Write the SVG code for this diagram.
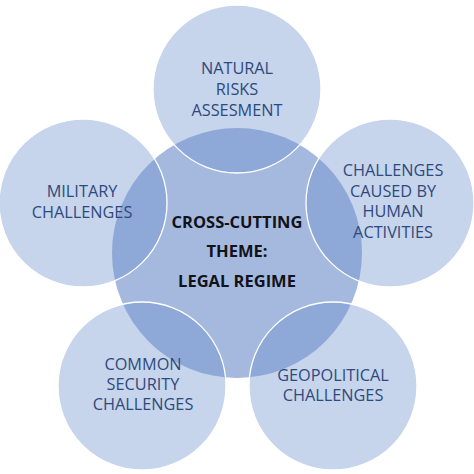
<svg xmlns="http://www.w3.org/2000/svg" width="474" height="474" viewBox="0 0 474 474">
<style>
.sat{fill:#6a8fcc;fill-opacity:0.38;stroke:#ffffff;stroke-width:1.3}
.hub{fill:#a5b9df}
.lbl{font-family:"Open Sans","Liberation Sans",sans-serif;font-size:16.3px;fill:#2e4a7d;text-anchor:middle}
.hubt{font-family:"Open Sans","Liberation Sans",sans-serif;font-size:16.5px;font-weight:bold;fill:#111318;text-anchor:middle}
</style>
<rect width="474" height="474" fill="#ffffff"/>
<g id="hub">
<circle class="hub" cx="237" cy="253" r="125"/>
</g>
<g id="natural">
<circle class="sat" cx="237" cy="89" r="84"/>
<text class="lbl" x="237" y="74">NATURAL</text>
<text class="lbl" x="237" y="95">RISKS</text>
<text class="lbl" x="237" y="116">ASSESMENT</text>
</g>
<g id="military">
<circle class="sat" cx="83" cy="203" r="84"/>
<text class="lbl" x="82" y="197">MILITARY</text>
<text class="lbl" x="82" y="218">CHALLENGES</text>
</g>
<g id="human">
<circle class="sat" cx="390" cy="203" r="84"/>
<text class="lbl" x="393" y="176">CHALLENGES</text>
<text class="lbl" x="393" y="197">CAUSED BY</text>
<text class="lbl" x="393" y="217">HUMAN</text>
<text class="lbl" x="393" y="238">ACTIVITIES</text>
</g>
<g id="common">
<circle class="sat" cx="142" cy="386" r="84"/>
<text class="lbl" x="143" y="370">COMMON</text>
<text class="lbl" x="143" y="390">SECURITY</text>
<text class="lbl" x="143" y="410">CHALLENGES</text>
</g>
<g id="geopolitical">
<circle class="sat" cx="333" cy="386" r="84"/>
<text class="lbl" x="333" y="381">GEOPOLITICAL</text>
<text class="lbl" x="333" y="401">CHALLENGES</text>
</g>
<g id="hub-label">
<text class="hubt" x="237" y="228">CROSS-CUTTING</text>
<text class="hubt" x="237" y="257">THEME:</text>
<text class="hubt" x="237" y="287">LEGAL REGIME</text>
</g>
</svg>
